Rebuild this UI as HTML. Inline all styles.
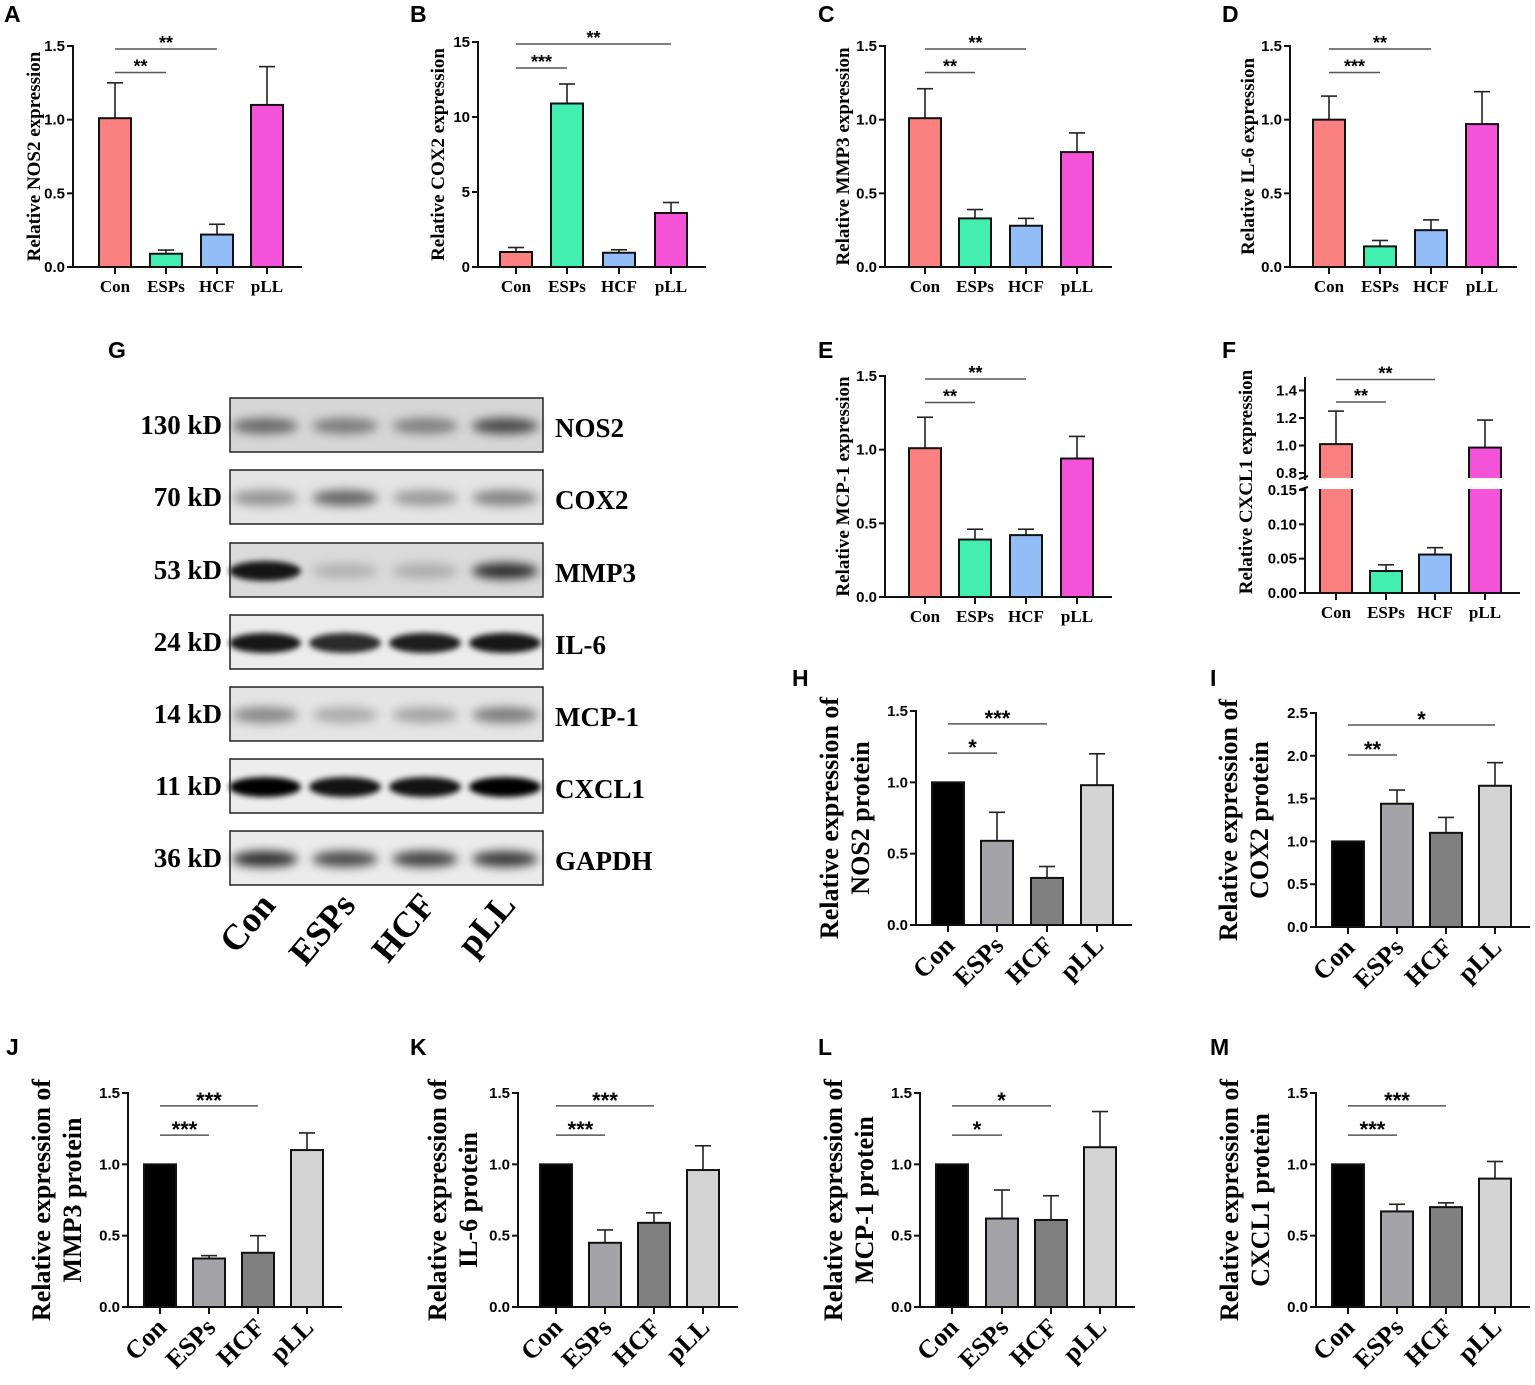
<!DOCTYPE html>
<html><head><meta charset="utf-8">
<style>
html,body{margin:0;padding:0;background:#fff;}
svg{display:block;}
</style></head>
<body>
<svg id="fig" width="1535" height="1385" viewBox="0 0 1535 1385" xmlns="http://www.w3.org/2000/svg">
<defs>
<filter id="blur3" x="-30%" y="-100%" width="160%" height="300%"><feGaussianBlur stdDeviation="3"/></filter>
<filter id="blur5" x="-30%" y="-100%" width="160%" height="300%"><feGaussianBlur stdDeviation="5"/></filter>
</defs>
<g id="root"></g>
</svg>
<script>
const groups = ["Con","ESPs","HCF","pLL"];
// qPCR panels
const aValues=[1.01,0.09,0.22,1.10]; const aErrTop=[1.25,0.115,0.29,1.36];
const bValues=[1.0,10.9,0.95,3.6];   const bErrTop=[1.3,12.2,1.15,4.3];
const cValues=[1.01,0.33,0.28,0.78]; const cErrTop=[1.21,0.39,0.33,0.91];
const dValues=[1.0,0.14,0.25,0.97];  const dErrTop=[1.16,0.18,0.32,1.19];
const eValues=[1.01,0.39,0.42,0.94]; const eErrTop=[1.22,0.46,0.46,1.09];
const fValues=[1.01,0.032,0.056,0.985]; const fErrTop=[1.25,0.041,0.066,1.185];
// western quantification
const hValues=[1.0,0.59,0.33,0.98]; const hErrTop=[1.0,0.79,0.41,1.20];
const iValues=[1.0,1.44,1.10,1.65]; const iErrTop=[1.0,1.60,1.28,1.92];
const jValues=[1.0,0.34,0.38,1.10]; const jErrTop=[1.0,0.36,0.50,1.22];
const kValues=[1.0,0.45,0.59,0.96]; const kErrTop=[1.0,0.54,0.66,1.13];
const lValues=[1.0,0.62,0.61,1.12]; const lErrTop=[1.0,0.82,0.78,1.37];
const mValues=[1.0,0.67,0.70,0.90]; const mErrTop=[1.0,0.72,0.73,1.02];
// tick labels
const ticks15=["0.0","0.5","1.0","1.5"]; const ticks15v=[0,0.5,1.0,1.5];
const ticksB=["0","5","10","15"]; const ticksBv=[0,5,10,15];
const ticksI=["0.0","0.5","1.0","1.5","2.0","2.5"]; const ticksIv=[0,0.5,1,1.5,2,2.5];
const ticksFlow=["0.00","0.05","0.10","0.15"]; const ticksFlowv=[0,0.05,0.10,0.15];
const ticksFhigh=["0.8","1.0","1.2","1.4"]; const ticksFhighv=[0.8,1.0,1.2,1.4];
// significance: [from group, to group, level value, stars]
const aSig=[[0,1,1.32,"**"],[0,2,1.48,"**"]];
const bSig=[[0,1,13.27,"***"],[0,3,14.87,"**"]];
const cSig=[[0,1,1.32,"**"],[0,2,1.48,"**"]];
const dSig=[[0,1,1.32,"***"],[0,2,1.48,"**"]];
const eSig=[[0,1,1.32,"**"],[0,2,1.48,"**"]];
const fSig=[[0,1,1.316,"**"],[0,2,1.48,"**"]];
const hSig=[[0,1,1.205,"*"],[0,2,1.41,"***"]];
const iSig=[[0,1,2.01,"**"],[0,3,2.36,"*"]];
const jSig=[[0,1,1.205,"***"],[0,2,1.41,"***"]];
const kSig=[[0,1,1.205,"***"],[0,2,1.41,"***"]];
const lSig=[[0,1,1.205,"*"],[0,2,1.41,"*"]];
const mSig=[[0,1,1.205,"***"],[0,2,1.41,"***"]];

const NS="http://www.w3.org/2000/svg";
const root=document.getElementById('root');
function mk(tag,attrs,parent,text){const e=document.createElementNS(NS,tag);for(const k in attrs)e.setAttribute(k,attrs[k]);if(text!==undefined)e.textContent=text;(parent||root).appendChild(e);return e;}

const colTop=["#fb8080","#42efb0","#92bdf7","#f452d8"];
const colBot=["#000000","#a2a2a7","#808080","#d4d4d4"];
const SANS='"Liberation Sans", Arial, sans-serif';
const SERIF='"Liberation Serif", "Times New Roman", serif';

function panel(p){
  const g=mk('g',{});
  
  
  const y=p.ymap;
  const half=p.bw/2;
  const ya=mk('line',{x1:p.ax,y1:p.axTop,x2:p.ax,y2:p.y0,stroke:'#111','stroke-width':2},g);
  
  
  const xa=mk('line',{x1:p.ax,y1:p.y0,x2:p.axEnd,y2:p.y0,stroke:'#111','stroke-width':2},g);
  
  
  const drawTicks=(vals,labs)=>vals.forEach((tv,i)=>{
    const ty=y(tv);
    mk('line',{x1:p.ax-6,y1:ty,x2:p.ax,y2:ty,stroke:'#111','stroke-width':2},g);
    const t=mk('text',{x:p.ax-8,y:ty+5,'text-anchor':'end','font-family':SANS,'font-weight':'bold','font-size':p.tfs},g,labs[i]);
    
    
  });
  drawTicks(p.ticks,p.tickLabels);
  if(p.extraTicks) drawTicks(p.extraTicks.v,p.extraTicks.l);
  p.values.forEach((v,i)=>{
    const cx=p.cx[i];
    mk('line',{x1:cx,y1:p.y0,x2:cx,y2:p.y0+7,stroke:'#111','stroke-width':2},g);
    const top=y(v);
    if(p.errTop[i]>v+1e-9){
      const et=y(p.errTop[i]);
      mk('line',{x1:cx,y1:top,x2:cx,y2:et,stroke:'#222','stroke-width':1.6},g);
      mk('line',{x1:cx-8,y1:et,x2:cx+8,y2:et,stroke:'#222','stroke-width':1.6},g);
    }
    const r=mk('rect',{x:cx-half,y:top,width:p.bw,height:p.y0-top,fill:p.colors[i],stroke:'#111','stroke-width':2},g);
    
    
    if(p.gap && v>p.gap[0]){
      mk('rect',{x:cx-half-2,y:p.gap[1],width:p.bw+4,height:p.gap[2],fill:'#fff'},g);
    }
    let lab;
    if(p.rot){
      lab=mk('text',{x:cx+8,y:p.y0+22,'text-anchor':'end','font-family':SERIF,'font-weight':'bold','font-size':26,transform:`rotate(-45 ${cx+8} ${p.y0+22})`},g,groups[i]);
    } else {
      lab=mk('text',{x:cx,y:p.y0+25,'text-anchor':'middle','font-family':SERIF,'font-weight':'bold','font-size':17},g,groups[i]);
    }
    
    
  });
  if(p.gap){
    mk('rect',{x:p.ax-8,y:p.gap[1]+2,width:10,height:p.gap[2]-4,fill:'#fff'},g);
    mk('line',{x1:p.ax-6,y1:p.gap[1]+1,x2:p.ax+3,y2:p.gap[1]-2,stroke:'#111','stroke-width':2},g);
    mk('line',{x1:p.ax-6,y1:p.gap[1]+p.gap[2]+1,x2:p.ax+3,y2:p.gap[1]+p.gap[2]-2,stroke:'#111','stroke-width':2},g);
  }
  p.sig.forEach(s=>{
    const ly=y(s[2]);
    const ln=mk('line',{x1:p.cx[s[0]],y1:ly,x2:p.cx[s[1]],y2:ly,stroke:'#555','stroke-width':1.5},g);
    
    
    const st=mk('text',{x:(p.cx[s[0]]+p.cx[s[1]])/2,y:ly-3+(p.rot?5:3),'text-anchor':'middle','font-family':SANS,'font-weight':'bold','font-size':p.rot?22:18},g,s[3]);
    
    
  });
  if(p.title2){
    const t1=mk('text',{x:0,y:0,'text-anchor':'middle','font-family':SERIF,'font-weight':'bold','font-size':26,transform:`translate(${p.tx} ${p.ty}) rotate(-90)`},g,p.title);
    
    
    const t2=mk('text',{x:0,y:0,'text-anchor':'middle','font-family':SERIF,'font-weight':'bold','font-size':26,transform:`translate(${p.tx+31} ${p.ty}) rotate(-90)`},g,p.title2);
    
    
  } else {
    const t1=mk('text',{x:0,y:0,'text-anchor':'middle','font-family':SERIF,'font-weight':'bold','font-size':19,transform:`translate(${p.tx} ${p.ty}) rotate(-90)`},g,p.title);
    
    
  }
  const L=mk('text',{x:p.lx,y:p.ly,'font-family':SANS,'font-weight':'bold','font-size':23},g,p.id);
  
  
}
function lin(y0,ytop,vmax){return v=>y0-(v/vmax)*(y0-ytop);}

function topPanel(id,ax,y0,ytop,vmax,cx,values,errTop,sig,tickLabels,ticks,title,tx,lx,ly){
  panel({id,ax,y0,axTop:ytop-1,axEnd:cx[3]+35,ymap:lin(y0,ytop,vmax),cx,bw:32,values,errTop,sig,tickLabels,ticks,colors:colTop,tfs:15,title,tx,ty:(y0+ytop)/2,lx,ly});
}
function botPanel(id,ax,y0,ytop,vmax,cx,values,errTop,sig,tickLabels,ticks,t1,t2,tx,lx,ly){
  panel({id,ax,y0,axTop:ytop-1,axEnd:cx[3]+35,ymap:lin(y0,ytop,vmax),cx,bw:32,values,errTop,sig,tickLabels,ticks,colors:colBot,tfs:15,title:t1,title2:t2,tx,ty:(y0+ytop)/2,rot:true,lx,ly});
}
topPanel('A',73,267,46,1.5,[115,166,217,267],aValues,aErrTop,aSig,ticks15,ticks15v,'Relative NOS2 expression',40,4,22);
topPanel('B',478,267,42,15,[516,567,619,671],bValues,bErrTop,bSig,ticksB,ticksBv,'Relative COX2 expression',444,410,22);
topPanel('C',885,267,46,1.5,[925,975,1026,1077],cValues,cErrTop,cSig,ticks15,ticks15v,'Relative MMP3 expression',849,818,22);
topPanel('D',1290,267,46,1.5,[1329,1380,1431,1482],dValues,dErrTop,dSig,ticks15,ticks15v,'Relative IL-6 expression',1254,1222,22);
topPanel('E',885,597,376,1.5,[925,975,1026,1077],eValues,eErrTop,eSig,ticks15,ticks15v,'Relative MCP-1 expression',849,818,358);
(function(){
  const fmap=v=> v<=0.15 ? 593-v*686.7 : 473-(v-0.8)*137.5;
  panel({id:'F',ax:1305,y0:593,axTop:377,axEnd:1520,ymap:fmap,cx:[1336,1386,1435,1485],bw:32,values:fValues,errTop:fErrTop,sig:fSig,
    tickLabels:ticksFlow,ticks:ticksFlowv,extraTicks:{l:ticksFhigh,v:ticksFhighv},colors:colTop,tfs:15,
    title:'Relative CXCL1 expression',tx:1252,ty:482,lx:1222,ly:358,gap:[0.15,478,11]});
})();
botPanel('H',916,925,711,1.5,[948,997,1047,1097],hValues,hErrTop,hSig,ticks15,ticks15v,'Relative expression of','NOS2 protein',838,792,686);
botPanel('I',1316,927,713,2.5,[1348,1397,1446,1495],iValues,iErrTop,iSig,ticksI,ticksIv,'Relative expression of','COX2 protein',1237,1210,686);
botPanel('J',128,1307,1093,1.5,[160,209,258,307],jValues,jErrTop,jSig,ticks15,ticks15v,'Relative expression of','MMP3 protein',50,6,1055);
botPanel('K',518,1307,1093,1.5,[556,605,654,703],kValues,kErrTop,kSig,ticks15,ticks15v,'Relative expression of','IL-6 protein',446,410,1055);
botPanel('L',920,1307,1093,1.5,[952,1002,1051,1100],lValues,lErrTop,lSig,ticks15,ticks15v,'Relative expression of','MCP-1 protein',842,818,1055);
botPanel('M',1316,1307,1093,1.5,[1348,1397,1446,1495],mValues,mErrTop,mSig,ticks15,ticks15v,'Relative expression of','CXCL1 protein',1238,1210,1055);

// Western blot (G)
const blotProteins=["NOS2","COX2","MMP3","IL-6","MCP-1","CXCL1","GAPDH"];
const blotSizes=["130 kD","70 kD","53 kD","24 kD","14 kD","11 kD","36 kD"];
const blotBg=["#d6d6d6","#e4e4e4","#dadada","#ececec","#e4e4e4","#ededed","#ebebeb"];
const blotIntensity=[[0.5,0.42,0.4,0.65],[0.35,0.55,0.32,0.42],[0.9,0.18,0.2,0.8],[0.9,0.82,0.88,0.9],[0.4,0.25,0.28,0.45],[1,0.92,0.92,1],[0.8,0.68,0.72,0.75]];
(function(){
  const g=mk('g',{});
  
  
  const lanes=[265,345,425,505];
  const bx=230,bw=313,bh=54;
  const rowsY=[398,470,543,615,687,759,831];
  const lbl=mk('text',{x:108,y:358,'font-family':SANS,'font-weight':'bold','font-size':23},g,'G');
  
  
  blotProteins.forEach((p,r)=>{
    const y=rowsY[r];
    const row=mk('g',{},g);
    
    
    mk('rect',{x:bx,y:y,width:bw,height:bh,fill:blotBg[r]},row);
    lanes.forEach((lx,i)=>{
      const a=blotIntensity[r][i];
      const strong=a>0.8;
      mk('ellipse',{cx:lx,cy:y+bh/2+1,rx:strong?36:33,ry:strong?10:8,fill:'#000','fill-opacity':a,filter:strong?'url(#blur3)':'url(#blur5)'},row);
    });
    mk('rect',{x:bx,y:y,width:bw,height:bh,fill:'none',stroke:'#222','stroke-width':1.5},row);
    const s=mk('text',{x:222,y:y+bh/2+9,'text-anchor':'end','font-family':SERIF,'font-weight':'bold','font-size':27},row,blotSizes[r]);
    
    
    const n=mk('text',{x:555,y:y+bh/2+12,'font-family':SERIF,'font-weight':'bold','font-size':27},row,p);
    
    
  });
  groups.forEach((gname,i)=>{
    const x=lanes[i]+12,y=906;
    const t=mk('text',{x:x,y:y,'text-anchor':'end','font-family':SERIF,'font-weight':'bold','font-size':36,transform:`rotate(-50 ${x} ${y})`},g,gname);
    
    
  });
})();
</script>
</body></html>
